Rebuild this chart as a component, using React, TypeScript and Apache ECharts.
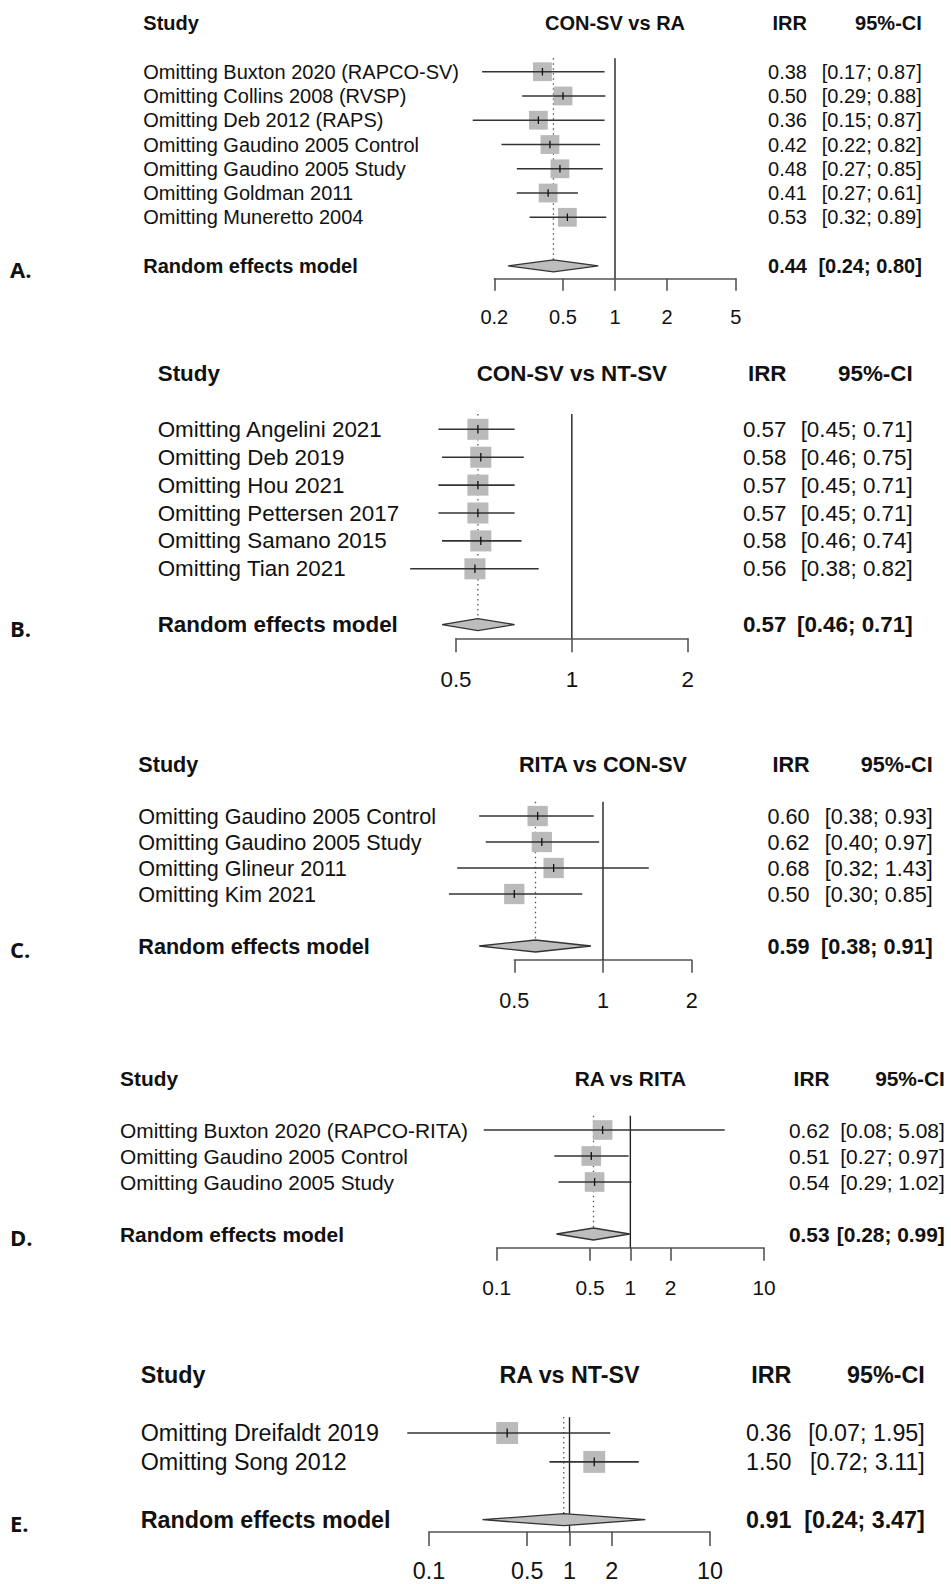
import React, { useEffect, useRef } from "react";
import * as echarts from "echarts";

const FONT = "'Liberation Sans', Arial, Helvetica, sans-serif";
const LETTER_FONT = "'Open Sans', 'Noto Sans', sans-serif";
const NULL_EFFECT = 1;

// ---------- Panel A ----------
const aTitle = "CON-SV vs RA";
const aStudies = [
  "Omitting Buxton 2020 (RAPCO-SV)",
  "Omitting Collins 2008 (RVSP)",
  "Omitting Deb 2012 (RAPS)",
  "Omitting Gaudino 2005 Control",
  "Omitting Gaudino 2005 Study",
  "Omitting Goldman 2011",
  "Omitting Muneretto 2004",
];
const aIRR = [0.38, 0.5, 0.36, 0.42, 0.48, 0.41, 0.53];
const aLower = [0.17, 0.29, 0.15, 0.22, 0.27, 0.27, 0.32];
const aUpper = [0.87, 0.88, 0.87, 0.82, 0.85, 0.61, 0.89];
const aModel = [0.44, 0.24, 0.8];
const aTicks = [0.2, 0.5, 1, 2, 5];

// ---------- Panel B ----------
const bTitle = "CON-SV vs NT-SV";
const bStudies = [
  "Omitting Angelini 2021",
  "Omitting Deb 2019",
  "Omitting Hou 2021",
  "Omitting Pettersen 2017",
  "Omitting Samano 2015",
  "Omitting Tian 2021",
];
const bIRR = [0.57, 0.58, 0.57, 0.57, 0.58, 0.56];
const bLower = [0.45, 0.46, 0.45, 0.45, 0.46, 0.38];
const bUpper = [0.71, 0.75, 0.71, 0.71, 0.74, 0.82];
const bModel = [0.57, 0.46, 0.71];
const bTicks = [0.5, 1, 2];

// ---------- Panel C ----------
const cTitle = "RITA vs CON-SV";
const cStudies = [
  "Omitting Gaudino 2005 Control",
  "Omitting Gaudino 2005 Study",
  "Omitting Glineur 2011",
  "Omitting Kim 2021",
];
const cIRR = [0.6, 0.62, 0.68, 0.5];
const cLower = [0.38, 0.4, 0.32, 0.3];
const cUpper = [0.93, 0.97, 1.43, 0.85];
const cModel = [0.59, 0.38, 0.91];
const cTicks = [0.5, 1, 2];

// ---------- Panel D ----------
const dTitle = "RA vs RITA";
const dStudies = [
  "Omitting Buxton 2020 (RAPCO-RITA)",
  "Omitting Gaudino 2005 Control",
  "Omitting Gaudino 2005 Study",
];
const dIRR = [0.62, 0.51, 0.54];
const dLower = [0.08, 0.27, 0.29];
const dUpper = [5.08, 0.97, 1.02];
const dModel = [0.53, 0.28, 0.99];
const dTicks = [0.1, 0.5, 1, 2, 10];

// ---------- Panel E ----------
const eTitle = "RA vs NT-SV";
const eStudies = ["Omitting Dreifaldt 2019", "Omitting Song 2012"];
const eIRR = [0.36, 1.5];
const eLower = [0.07, 0.72];
const eUpper = [1.95, 3.11];
const eModel = [0.91, 0.24, 3.47];
const eTicks = [0.1, 0.5, 1, 2, 10];

const modelLabel = "Random effects model";
const headStudy = "Study";
const headIRR = "IRR";
const headCI = "95%-CI";
const letters = ["A.", "B.", "C.", "D.", "E."];

// Layout (pixel positions) for each panel
const layouts = [
  { x0: 494.3, x1: 735.7, row0: 71.7, step: 24.27, axisY: 278.3, tick: 12.4, labelY: 316.7, fs: 20, studyX: 143.3, irrR: 807, ciR: 921.8 },
  { x0: 456, x1: 687.7, row0: 429.3, step: 27.9, axisY: 638.3, tick: 14, labelY: 680, fs: 22.4, studyX: 157.7, irrR: 786.5, ciR: 912.7 },
  { x0: 514.3, x1: 691.7, row0: 816, step: 26, axisY: 960, tick: 12.7, labelY: 1000, fs: 21.6, studyX: 138.3, irrR: 809.6, ciR: 932.7 },
  { x0: 496.7, x1: 764, row0: 1130, step: 26, axisY: 1247.7, tick: 13, labelY: 1287.3, fs: 20.9, studyX: 120, irrR: 829.6, ciR: 944.8 },
  { x0: 429, x1: 710, row0: 1433, step: 28.9, axisY: 1531.7, tick: 14.3, labelY: 1571.5, fs: 23.3, studyX: 140.7, irrR: 791.4, ciR: 924.8 },
];

const panels = [
  { title: aTitle, studies: aStudies, irr: aIRR, lower: aLower, upper: aUpper, model: aModel, ticks: aTicks },
  { title: bTitle, studies: bStudies, irr: bIRR, lower: bLower, upper: bUpper, model: bModel, ticks: bTicks },
  { title: cTitle, studies: cStudies, irr: cIRR, lower: cLower, upper: cUpper, model: cModel, ticks: cTicks },
  { title: dTitle, studies: dStudies, irr: dIRR, lower: dLower, upper: dUpper, model: dModel, ticks: dTicks },
  { title: eTitle, studies: eStudies, irr: eIRR, lower: eLower, upper: eUpper, model: eModel, ticks: eTicks },
];

const lg = (v: number) => Math.log10(v);
const f2 = (v: number) => v.toFixed(2);
const ciText = (lo: number, hi: number) => `[${f2(lo)}; ${f2(hi)}]`;

function buildOption() {
  const grid: any[] = [];
  const xAxis: any[] = [];
  const yAxis: any[] = [];
  const series: any[] = [];
  const Y_MIN = -2.5;

  panels.forEach((p, i) => {
    const L = layouts[i];
    const top = L.row0 + Y_MIN * L.step;
    const yMax = (L.axisY - L.row0) / L.step;
    const tv = p.ticks.map(lg);
    const fs = L.fs;
    const sq = fs * 0.94;

    grid.push({
      left: L.x0,
      width: L.x1 - L.x0,
      top,
      height: L.axisY - top,
      containLabel: false,
      outerBoundsMode: "none",
    });
    xAxis.push({
      type: "value",
      gridIndex: i,
      position: "bottom",
      min: tv[0],
      max: tv[tv.length - 1],
      axisLine: { show: true, onZero: false, lineStyle: { color: "#555", width: 1.6 } },
      axisTick: { show: true, inside: false, length: L.tick, customValues: tv, lineStyle: { color: "#555", width: 1.6 } },
      axisLabel: {
        show: true,
        customValues: tv,
        margin: L.labelY - L.axisY - fs * 0.5,
        fontSize: fs,
        fontFamily: FONT,
        color: "#111",
        formatter: (v: number) => {
          const k = tv.findIndex((t) => Math.abs(t - v) < 1e-6);
          return k >= 0 ? String(p.ticks[k]) : "";
        },
      },
      splitLine: { show: false },
    });
    yAxis.push({ type: "value", gridIndex: i, inverse: true, min: Y_MIN, max: yMax, show: false });

    const reRow = p.studies.length + 1;
    const txt = (x: number, y: number, text: string, align: string, bold: boolean, size = fs, family = FONT) => ({
      type: "text",
      x,
      y,
      style: {
        text,
        fill: "#111",
        fontSize: size,
        fontFamily: family,
        fontWeight: bold ? "bold" : "normal",
        align,
        verticalAlign: "middle",
      },
    });

    // model series: reference line, dotted line, diamond, header and model texts
    series.push({
      type: "custom",
      xAxisIndex: i,
      yAxisIndex: i,
      clip: false,
      silent: true,
      data: [[lg(p.model[0]), reRow, lg(p.model[1]), lg(p.model[2])]],
      renderItem: (params: any, api: any) => {
        const pe = api.coord([api.value(0), api.value(1)]);
        const xe = pe[0];
        const ye = pe[1];
        const xl = api.coord([api.value(2), api.value(1)])[0];
        const xh = api.coord([api.value(3), api.value(1)])[0];
        const yTop = api.coord([0, -0.55])[1];
        const yHead = api.coord([0, -2])[1];
        const xRef = api.coord([lg(NULL_EFFECT), 0])[0];
        const yAx = api.coord([0, yMax])[1];
        const h = 6;
        return {
          type: "group",
          children: [
            { type: "line", shape: { x1: xRef, y1: yTop, x2: xRef, y2: yAx }, style: { stroke: "#222", lineWidth: 1.4 } },
            { type: "line", shape: { x1: xe, y1: yTop, x2: xe, y2: ye - h }, style: { stroke: "#555", lineWidth: 1.3, lineDash: [1.5, 3.5] } },
            {
              type: "polygon",
              shape: { points: [[xl, ye], [xe, ye - h], [xh, ye], [xe, ye + h]] },
              style: { fill: "#bdbdbd", stroke: "#333", lineWidth: 1.3 },
            },
            txt(L.studyX, yHead, headStudy, "left", true),
            txt((L.x0 + L.x1) / 2, yHead, p.title, "center", true),
            txt(L.irrR, yHead, headIRR, "right", true),
            txt(L.ciR, yHead, headCI, "right", true),
            txt(L.studyX, ye, modelLabel, "left", true),
            txt(L.irrR, ye, f2(p.model[0]), "right", true),
            txt(L.ciR, ye, ciText(p.model[1], p.model[2]), "right", true),
            txt(10, ye + 3, letters[i], "left", true, 22, LETTER_FONT),
          ],
        };
      },
    });

    // study series
    series.push({
      type: "custom",
      xAxisIndex: i,
      yAxisIndex: i,
      clip: false,
      silent: true,
      data: p.studies.map((_, k) => [lg(p.irr[k]), k, lg(p.lower[k]), lg(p.upper[k])]),
      renderItem: (params: any, api: any) => {
        const k = params.dataIndex;
        const pe = api.coord([api.value(0), api.value(1)]);
        const xe = pe[0];
        const y = pe[1];
        const xl = api.coord([api.value(2), api.value(1)])[0];
        const xh = api.coord([api.value(3), api.value(1)])[0];
        return {
          type: "group",
          children: [
            { type: "rect", shape: { x: xe - sq / 2, y: y - sq / 2, width: sq, height: sq }, style: { fill: "#bababa" } },
            { type: "line", shape: { x1: xl, y1: y, x2: xh, y2: y }, style: { stroke: "#333", lineWidth: 1.6 } },
            { type: "line", shape: { x1: xe, y1: y - sq * 0.2, x2: xe, y2: y + sq * 0.2 }, style: { stroke: "#111", lineWidth: 1.3 } },
            txt(L.studyX, y, p.studies[k], "left", false),
            txt(L.irrR, y, f2(p.irr[k]), "right", false),
            txt(L.ciR, y, ciText(p.lower[k], p.upper[k]), "right", false),
          ],
        };
      },
    });
  });

  return {
    animation: false,
    backgroundColor: "#ffffff",
    grid,
    xAxis,
    yAxis,
    series,
  };
}

export default function App() {
  const ref = useRef<HTMLDivElement>(null);
  useEffect(() => {
    if (!ref.current) return;
    const chart = echarts.init(ref.current, undefined, { renderer: "svg" });
    chart.setOption(buildOption() as any);
    return () => chart.dispose();
  }, []);
  return (
    <div
      ref={ref}
      style={{ position: "absolute", left: 0, top: 0, width: 951, height: 1584, background: "#fff" }}
    />
  );
}
